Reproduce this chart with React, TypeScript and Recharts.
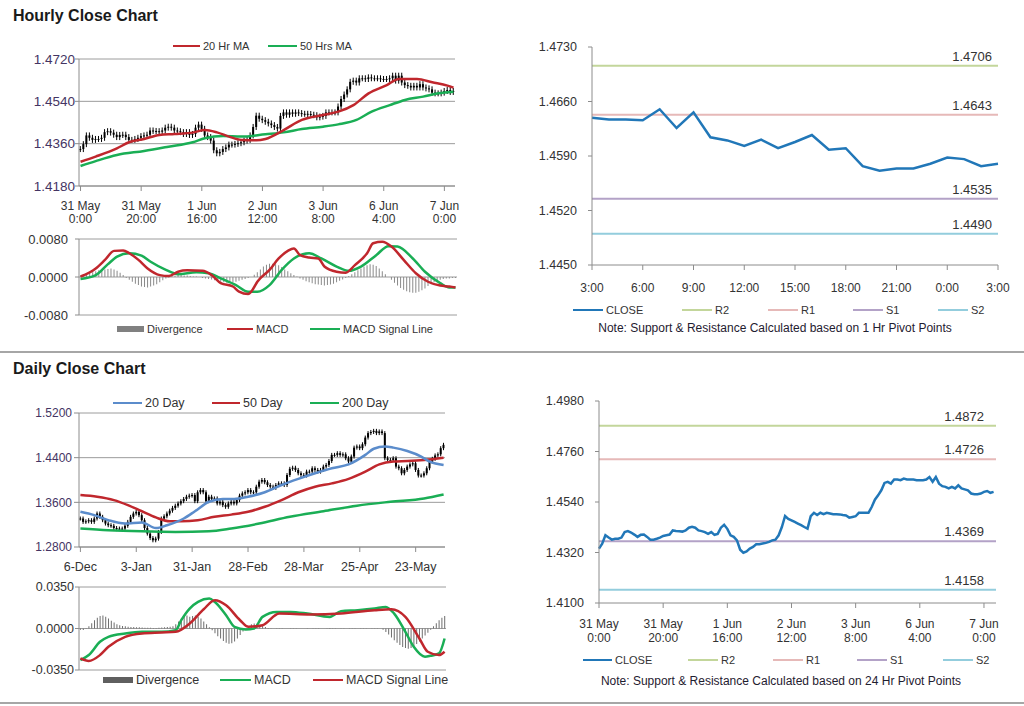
import React from "react";
import { ComposedChart, LineChart, Line, Bar, XAxis, YAxis, CartesianGrid, ReferenceLine } from "recharts";

// hourly closes, 31 May 0:00 -> 7 Jun 3:00 (candles top-left, close line bottom-right)
const hourlyClose = [
  1.4337, 1.4358, 1.4395, 1.4385, 1.4376, 1.438, 1.438, 1.4385, 1.4409, 1.4413,
  1.4407, 1.4398, 1.4388, 1.4397, 1.4398, 1.4388, 1.4376, 1.4376, 1.438, 1.4385,
  1.4392, 1.4395, 1.4398, 1.4416, 1.4414, 1.4413, 1.4411, 1.4416, 1.4428, 1.4432,
  1.4428, 1.4416, 1.4413, 1.4409, 1.4401, 1.4409, 1.4397, 1.4401, 1.4428, 1.4441,
  1.4423, 1.4395, 1.4388, 1.4373, 1.4332, 1.4319, 1.4325, 1.4337, 1.4344, 1.4356,
  1.4356, 1.4359, 1.4362, 1.4366, 1.4373, 1.4376, 1.4395, 1.4431, 1.4479, 1.4466,
  1.446, 1.4453, 1.4446, 1.4439, 1.4431, 1.4424, 1.4478, 1.4493, 1.4483, 1.4493,
  1.4487, 1.4493, 1.449, 1.4487, 1.4487, 1.4486, 1.4483, 1.4481, 1.4472, 1.4475,
  1.4478, 1.4493, 1.4493, 1.4493, 1.4493, 1.4518, 1.455, 1.4569, 1.4591, 1.4623,
  1.4628, 1.462, 1.4638, 1.4638, 1.4635, 1.4642, 1.4638, 1.4638, 1.4638, 1.4635,
  1.4635, 1.4635, 1.4638, 1.4649, 1.4628, 1.4649, 1.462, 1.4609, 1.4606, 1.4599,
  1.4606, 1.4599, 1.4613, 1.4599, 1.4595, 1.4591, 1.4577, 1.4574, 1.4574, 1.4577,
  1.4584, 1.4588, 1.458, 1.4584,
];
const hourlyTickLabels = [
  ["31 May", "0:00"], ["31 May", "20:00"], ["1 Jun", "16:00"], ["2 Jun", "12:00"],
  ["3 Jun", "8:00"], ["6 Jun", "4:00"], ["7 Jun", "0:00"],
];
// [bar index, value]
const hourlyMa20: [number, number][] = [
  [0, 1.4283], [5, 1.4305], [12, 1.434], [16, 1.4366], [21, 1.438], [26, 1.4397], [31, 1.4401],
  [37, 1.4407], [41, 1.4418], [45, 1.4408], [49, 1.439], [53, 1.4376], [58, 1.4374], [61, 1.438],
  [67, 1.4418], [73, 1.4461], [80, 1.4482], [85, 1.4496], [90, 1.4524], [95, 1.4574], [101, 1.4609],
  [105, 1.4635], [111, 1.4635], [116, 1.4621], [121, 1.4607], [123, 1.4598],
];
const hourlyMa50: [number, number][] = [
  [0, 1.4265], [5, 1.4286], [12, 1.4312], [21, 1.4329], [29, 1.4347], [37, 1.4366], [41, 1.4383],
  [47, 1.4393], [53, 1.439], [61, 1.44], [67, 1.4408], [73, 1.4422], [80, 1.4432], [85, 1.4442],
  [91, 1.4461], [96, 1.4496], [102, 1.4524], [107, 1.4546], [113, 1.456], [118, 1.4574], [123, 1.4581],
];
const hourlyTicks = [1.418, 1.436, 1.454, 1.472];

const hourlyDivergence = [
  0.0002, 0.0003, 0.0005, 0.0008, 0.001, 0.0012, 0.0014, 0.0015, 0.0016, 0.0017,
  0.0018, 0.0016, 0.0013, 0.0009, 0.0004, -0.0002, -0.0006, -0.001, -0.0014, -0.0017,
  -0.002, -0.0021, -0.0022, -0.002, -0.0018, -0.0015, -0.0011, -0.0007, -0.0003, -0.0001,
  0.0002, 0.0003, 0.0004, 0.0004, 0.0003, 0.0003, 0.0002, 0.0001, 0.0001, 0.0,
  -0.0002, -0.0003, -0.0004, -0.0005, -0.0007, -0.0009, -0.001, -0.0011, -0.0012, -0.0012,
  -0.0011, -0.001, -0.0008, -0.0006, -0.0004, -0.0002, 0.0, 0.0005, 0.001, 0.0016,
  0.0022, 0.0026, 0.0028, 0.0028, 0.0027, 0.0025, 0.0021, 0.0016, 0.0012, 0.0008,
  0.0004, 0.0001, -0.0003, -0.0006, -0.0009, -0.0011, -0.0013, -0.0015, -0.0016, -0.0017,
  -0.0018, -0.0017, -0.0016, -0.0014, -0.0011, -0.0008, -0.0005, -0.0002, 0.0002, 0.0006,
  0.001, 0.0014, 0.0018, 0.0022, 0.0025, 0.0027, 0.0026, 0.0023, 0.0018, 0.0012,
  0.0006, 0.0, -0.0006, -0.0012, -0.0018, -0.0023, -0.0027, -0.003, -0.0032, -0.0033,
  -0.0033, -0.0031, -0.0028, -0.0024, -0.0019, -0.0015, -0.0011, -0.0008, -0.0006, -0.0004,
  -0.0003, -0.0003, -0.0002, -0.0002,
];
const hourlyMacd: [number, number][] = [
  [0, 0.0001], [5, 0.0018], [8, 0.0036], [11, 0.0055], [14, 0.0056], [16, 0.005], [19, 0.0036],
  [22, 0.0018], [26, 0.0004], [29, 0.0002], [32, 0.0011], [35, 0.0014], [40, 0.0013], [43, 0.0004],
  [46, -0.0013], [50, -0.002], [52, -0.0031], [55, -0.0036], [56, -0.0031], [58, -0.001], [62, 0.0015],
  [65, 0.0039], [68, 0.0055], [70, 0.006], [72, 0.0046], [75, 0.0041], [78, 0.0039], [80, 0.0022],
  [84, 0.0011], [87, 0.0009], [90, 0.0025], [94, 0.005], [96, 0.0071], [99, 0.0074], [102, 0.0064],
  [106, 0.0036], [110, 0.0008], [114, -0.001], [118, -0.0018], [121, -0.002], [123, -0.0022],
];
const hourlySignal: [number, number][] = [
  [0, -0.0004], [5, 0.0004], [9, 0.0027], [12, 0.0043], [16, 0.005], [20, 0.0045], [23, 0.0032],
  [28, 0.0015], [32, 0.0006], [38, 0.001], [42, 0.0008], [46, -0.0003], [51, -0.0017], [55, -0.0031],
  [58, -0.0031], [62, -0.0017], [66, 0.0015], [70, 0.0039], [75, 0.005], [79, 0.0039], [84, 0.0022],
  [88, 0.0013], [92, 0.0022], [97, 0.0046], [101, 0.0065], [104, 0.0064], [109, 0.0039], [113, 0.0011],
  [118, -0.0013], [121, -0.0022], [123, -0.0022],
];
const hourlyMacdTicks = [-0.008, 0, 0.008];

// last 24 hours, 1 hr pivots
const oneHourClose = [
  1.4639, 1.4637, 1.4637, 1.4636, 1.465, 1.4626, 1.4646, 1.4614, 1.461, 1.4603,
  1.4611, 1.46, 1.4608, 1.4617, 1.4598, 1.46, 1.4577, 1.4571, 1.4574, 1.4574,
  1.458, 1.4588, 1.4586, 1.4577, 1.458,
];
const oneHourTickLabels = ["3:00", "6:00", "9:00", "12:00", "15:00", "18:00", "21:00", "0:00", "3:00"];
const oneHourTicks = [1.445, 1.452, 1.459, 1.466, 1.473];
const pivotNames = ["R2", "R1", "S1", "S2"];
const pivot1Hr = [1.4706, 1.4643, 1.4535, 1.449];
const pivot24Hr = [1.4872, 1.4726, 1.4369, 1.4158];
const hourly24Ticks = [1.41, 1.432, 1.454, 1.476, 1.498];

// daily closes 6-Dec -> 7-Jun
const dailyClose = [
  1.331, 1.325, 1.326, 1.328, 1.325, 1.331, 1.34, 1.334, 1.328, 1.322,
  1.319, 1.318, 1.314, 1.312, 1.313, 1.313, 1.318, 1.325, 1.334, 1.34,
  1.343, 1.337, 1.328, 1.314, 1.304, 1.296, 1.292, 1.295, 1.307, 1.331,
  1.335, 1.34, 1.345, 1.35, 1.354, 1.358, 1.362, 1.366, 1.37, 1.372,
  1.373, 1.362, 1.378, 1.382, 1.378, 1.362, 1.37, 1.366, 1.367, 1.358,
  1.361, 1.355, 1.352, 1.358, 1.361, 1.358, 1.364, 1.372, 1.376, 1.378,
  1.382, 1.378, 1.378, 1.388, 1.397, 1.4, 1.396, 1.391, 1.388, 1.386,
  1.391, 1.394, 1.394, 1.391, 1.409, 1.42, 1.422, 1.418, 1.412, 1.409,
  1.408, 1.415, 1.415, 1.421, 1.418, 1.415, 1.418, 1.424, 1.427, 1.434,
  1.445, 1.445, 1.448, 1.445, 1.446, 1.439, 1.433, 1.442, 1.458, 1.46,
  1.457, 1.464, 1.476, 1.484, 1.486, 1.488, 1.484, 1.487, 1.484, 1.439,
  1.436, 1.436, 1.439, 1.424, 1.421, 1.412, 1.418, 1.424, 1.428, 1.43,
  1.418, 1.408, 1.408, 1.412, 1.421, 1.433, 1.438, 1.444, 1.446, 1.457,
  1.463,
];
const dailyTickLabels = ["6-Dec", "3-Jan", "31-Jan", "28-Feb", "28-Mar", "25-Apr", "23-May"];
const dailyMa20: [number, number][] = [
  [0, 1.343], [5, 1.337], [10, 1.328], [16, 1.322], [22, 1.324], [27, 1.314], [31, 1.319],
  [37, 1.331], [41, 1.344], [46, 1.361], [51, 1.366], [55, 1.366], [60, 1.37], [66, 1.378],
  [72, 1.391], [78, 1.402], [84, 1.412], [90, 1.421], [96, 1.428], [102, 1.445], [105, 1.456],
  [109, 1.46], [112, 1.458], [117, 1.452], [122, 1.442], [125, 1.433], [130, 1.427],
];
const dailyMa50: [number, number][] = [
  [0, 1.373], [6, 1.37], [12, 1.364], [17, 1.355], [22, 1.344], [27, 1.333], [32, 1.326],
  [36, 1.326], [42, 1.328], [48, 1.334], [54, 1.338], [60, 1.343], [66, 1.352], [72, 1.364],
  [78, 1.378], [84, 1.388], [90, 1.394], [96, 1.402], [102, 1.415], [107, 1.428], [112, 1.433],
  [117, 1.434], [123, 1.436], [130, 1.44],
];
const dailyMa200: [number, number][] = [
  [0, 1.313], [10, 1.31], [22, 1.308], [34, 1.307], [46, 1.308], [54, 1.313], [64, 1.322],
  [75, 1.334], [87, 1.344], [99, 1.354], [111, 1.361], [123, 1.367], [130, 1.374],
];
const dailyTicks = [1.28, 1.36, 1.44, 1.52];

const dailyDivergence = [
  -0.001, -0.0012, 0.0005, 0.002, 0.0045, 0.007, 0.009, 0.0105, 0.011, 0.01,
  0.0085, 0.0065, 0.005, 0.0035, 0.0028, 0.0022, 0.0018, 0.0015, 0.0013, 0.0012,
  0.001, 0.001, 0.0008, 0.0007, 0.0006, 0.0006, 0.0005, 0.0005, 0.0006, 0.0008,
  0.001, 0.0012, 0.0015, 0.002, 0.0035, 0.006, 0.0085, 0.0105, 0.011, 0.01,
  0.0105, 0.011, 0.01, 0.0085, 0.006, 0.0035, 0.001, -0.0015, -0.004, -0.0065,
  -0.0085, -0.0105, -0.012, -0.0128, -0.0125, -0.011, -0.0085, -0.0055, -0.0025, 0.0,
  0.002, 0.0035, 0.0042, 0.004, 0.0032, 0.0022, 0.0012, 0.0005, 0.0002, 0.0,
  -0.0003, -0.0003, -0.0002, -0.0001, 0.0, -0.0002, -0.0003, -0.0002, -0.0001, 0.0,
  0.0001, 0.0002, 0.0, -0.0002, -0.0003, -0.0002, -0.0001, 0.0001, 0.0003, 0.0004,
  0.0003, 0.0002, 0.0001, 0.0002, 0.0002, 0.0001, 0.0002, 0.0003, 0.0002, 0.0001,
  0.0002, 0.0003, 0.0002, 0.0001, 0.0002, 0.0003, 0.0002, 0.0001, -0.001, -0.003,
  -0.005, -0.0075, -0.01, -0.012, -0.014, -0.0155, -0.0165, -0.017, -0.0165, -0.015,
  -0.013, -0.011, -0.0085, -0.006, -0.0035, -0.001, 0.002, 0.0045, 0.007, 0.009,
  0.0105,
];
const dailyMacd: [number, number][] = [
  [0, -0.0266], [3, -0.0224], [7, -0.0112], [10, -0.007], [16, -0.0042], [22, -0.0028], [29, -0.0028],
  [34, -0.0014], [36, 0.007], [39, 0.0168], [42, 0.0224], [46, 0.0252], [48, 0.0224], [52, 0.0112],
  [55, 0.0014], [59, -0.0008], [62, 0.0], [65, 0.0098], [70, 0.014], [75, 0.014], [81, 0.0126],
  [89, 0.0098], [93, 0.0146], [99, 0.0154], [105, 0.0168], [109, 0.0182], [112, 0.0126], [116, -0.0028],
  [119, -0.0154], [123, -0.0238], [125, -0.023], [128, -0.021], [130, -0.0084],
];
const dailySignal: [number, number][] = [
  [0, -0.0252], [3, -0.0274], [7, -0.0224], [10, -0.0154], [16, -0.007], [22, -0.0042], [29, -0.0034],
  [34, -0.0028], [39, 0.0042], [44, 0.0162], [48, 0.0238], [52, 0.0196], [57, 0.007], [60, 0.0014],
  [65, 0.0028], [71, 0.0126], [82, 0.0118], [93, 0.0126], [105, 0.0154], [111, 0.0162], [116, 0.0098],
  [121, -0.0084], [124, -0.0196], [128, -0.0224], [130, -0.0196],
];
const dailyMacdTicks = [-0.035, 0, 0.035];

const FONT = "'Liberation Sans', Arial, Helvetica, sans-serif";
const AXIS = "#8c8c8c";
const GRID = "#9c9c9c";
const RED = "#c0272d";
const GREEN = "#1aae55";
const MA_BLUE = "#5b8ccb";
const CLOSE_BLUE = "#2177b8";
const PURPLE = "#443463";
const TXT = "#333";
const pivotColors = ["#c3d69b", "#e6b9b8", "#b3a2c7", "#93cddd"];

const pick = (pairs: [number, number][], i: number) => {
  const p = pairs.find((q) => q[0] === i);
  return p ? p[1] : null;
};
const f4 = (v: number) => v.toFixed(4);

const candleRows = (closes: number[], maA: [number, number][], maB: [number, number][], maC?: [number, number][]) =>
  closes.map((close, i) => {
    const open = i === 0 ? close : closes[i - 1];
    return {
      i,
      close,
      body: [Math.min(open, close), Math.max(open, close)],
      a: pick(maA, i),
      b: pick(maB, i),
      c: maC ? pick(maC, i) : null,
    };
  });

const hourlyRows = candleRows(hourlyClose, hourlyMa20, hourlyMa50);
const dailyRows = candleRows(dailyClose, dailyMa20, dailyMa50, dailyMa200);
const hourlyMacdRows = hourlyDivergence.map((d, i) => ({ i, div: d, macd: pick(hourlyMacd, i), signal: pick(hourlySignal, i) }));
const dailyMacdRows = dailyDivergence.map((d, i) => ({ i, div: d, macd: pick(dailyMacd, i), signal: pick(dailySignal, i) }));
const oneHourRows = oneHourClose.map((close, h) => ({ h, close }));

const Candle = (props: any) => {
  const { x, y, width, height, wick = 3 } = props;
  if (x == null || y == null) return null;
  const cx = x + width / 2;
  const top = Math.min(y, y + height);
  const h = Math.abs(height || 0);
  return (
    <g>
      <line x1={cx} x2={cx} y1={top - wick} y2={top + h + wick} stroke="#000" strokeWidth={1} />
      <rect x={cx - 1} y={top} width={2} height={Math.max(h, 1)} fill="#000" />
    </g>
  );
};

const TwoLineTick = (props: any) => {
  const { x, y, payload, labels, step, d1, d2, fontSize } = props;
  const lab = labels[Math.round(payload.value / step)];
  if (!lab) return null;
  return (
    <text textAnchor="middle" fill={TXT} fontSize={fontSize}>
      <tspan x={x} y={y + d1}>{lab[0]}</tspan>
      <tspan x={x} y={y + d2}>{lab[1]}</tspan>
    </text>
  );
};

const PivotLabel = (props: any) => {
  const { viewBox, text, inset } = props;
  if (!viewBox) return null;
  return (
    <text x={viewBox.x + viewBox.width - inset} y={viewBox.y - 5} textAnchor="end" fontSize={13} fill={TXT}>
      {text}
    </text>
  );
};

type LegendItem = { label: string; color: string; x: number; w: number; box?: boolean; thick?: number };

const LegendRow = ({ top, items, fontSize }: { top: number; items: LegendItem[]; fontSize: number }) => (
  <>
    {items.map((it) => (
      <div
        key={it.label + it.x}
        style={{
          position: "absolute",
          left: it.x,
          top: top - 8,
          height: 16,
          display: "flex",
          alignItems: "center",
          fontSize,
          color: TXT,
          whiteSpace: "nowrap",
        }}
      >
        <span
          style={{
            display: "inline-block",
            width: it.w,
            height: it.box ? 6 : it.thick || 2,
            background: it.color,
            marginRight: 3,
          }}
        />
        {it.label}
      </div>
    ))}
  </>
);

const titleStyle: React.CSSProperties = {
  position: "absolute",
  left: 13,
  fontSize: 16,
  fontWeight: "bold",
  lineHeight: "18px",
  color: "#1a1a1a",
};
const abs = (left: number, top: number): React.CSSProperties => ({ position: "absolute", left, top });

export default function App() {
  return (
    <div
      style={{
        position: "absolute",
        left: 0,
        top: 0,
        width: 1024,
        height: 706,
        background: "#fff",
        fontFamily: FONT,
        overflow: "hidden",
      }}
    >
      <div style={{ ...titleStyle, top: 7 }}>Hourly Close Chart</div>
      <div style={{ ...titleStyle, top: 360 }}>Daily Close Chart</div>
      <div style={{ position: "absolute", left: 0, top: 351, width: 1024, height: 2, background: "#a6a6a6" }} />
      <div style={{ position: "absolute", left: 0, top: 702, width: 1024, height: 2, background: "#a6a6a6" }} />

      {/* hourly candles */}
      <div style={abs(0, 0)}>
        <ComposedChart width={470} height={230} data={hourlyRows} margin={{ top: 59, right: 15, bottom: 0, left: 0 }}>
          <CartesianGrid vertical={false} stroke={GRID} />
          <XAxis
            dataKey="i"
            interval={19}
            height={44}
            tickSize={5}
            axisLine={{ stroke: AXIS }}
            tickLine={{ stroke: AXIS }}
            tick={<TwoLineTick labels={hourlyTickLabels} step={20} d1={17} d2={30} fontSize={12} />}
          />
          <YAxis
            type="number"
            domain={[1.418, 1.472]}
            ticks={hourlyTicks}
            interval={0}
            width={79}
            tickSize={4}
            tickMargin={0}
            tickFormatter={f4}
            tick={{ fontSize: 13.5, fill: PURPLE }}
            axisLine={{ stroke: AXIS }}
            tickLine={{ stroke: AXIS }}
          />
          <Bar dataKey="body" shape={<Candle wick={3} />} isAnimationActive={false} />
          <Line dataKey="b" type="monotone" stroke={GREEN} strokeWidth={2.5} dot={false} activeDot={false} connectNulls isAnimationActive={false} />
          <Line dataKey="a" type="monotone" stroke={RED} strokeWidth={2.5} dot={false} activeDot={false} connectNulls isAnimationActive={false} />
        </ComposedChart>
      </div>
      <LegendRow
        top={46}
        fontSize={11}
        items={[
          { label: "20 Hr MA", color: RED, x: 173, w: 27 },
          { label: "50 Hrs MA", color: GREEN, x: 268, w: 29 },
        ]}
      />

      {/* hourly MACD */}
      <div style={abs(0, 230)}>
        <ComposedChart width={470} height={100} data={hourlyMacdRows} margin={{ top: 9, right: 13, bottom: 15, left: 0 }}>
          <CartesianGrid vertical={false} stroke={GRID} />
          <XAxis dataKey="i" hide />
          <YAxis
            type="number"
            domain={[-0.008, 0.008]}
            ticks={hourlyMacdTicks}
            interval={0}
            width={79}
            tickSize={4}
            tickMargin={7}
            tickFormatter={f4}
            tick={{ fontSize: 13, fill: TXT }}
            axisLine={{ stroke: AXIS }}
            tickLine={{ stroke: AXIS }}
          />
          <Bar dataKey="div" fill="#8a8a8a" barSize={1} isAnimationActive={false} />
          <Line dataKey="signal" type="monotone" stroke={GREEN} strokeWidth={2.5} dot={false} activeDot={false} connectNulls isAnimationActive={false} />
          <Line dataKey="macd" type="monotone" stroke={RED} strokeWidth={2.5} dot={false} activeDot={false} connectNulls isAnimationActive={false} />
        </ComposedChart>
      </div>
      <LegendRow
        top={329}
        fontSize={11}
        items={[
          { label: "Divergence", color: "#808080", x: 117, w: 27, box: true },
          { label: "MACD", color: RED, x: 227, w: 26 },
          { label: "MACD  Signal Line", color: GREEN, x: 310, w: 30 },
        ]}
      />

      {/* 1 hr pivot chart */}
      <div style={abs(520, 30)}>
        <LineChart width={504} height={270} data={oneHourRows} margin={{ top: 17, right: 26, bottom: 0, left: 0 }}>
          <XAxis
            dataKey="h"
            type="number"
            domain={[0, 24]}
            ticks={[0, 3, 6, 9, 12, 15, 18, 21, 24]}
            interval={0}
            height={35}
            tickSize={5}
            tickMargin={13}
            tickFormatter={(v: number) => oneHourTickLabels[Math.round(v / 3)]}
            tick={{ fontSize: 12, fill: TXT }}
            axisLine={{ stroke: AXIS }}
            tickLine={{ stroke: AXIS }}
          />
          <YAxis
            type="number"
            domain={[1.445, 1.473]}
            ticks={oneHourTicks}
            interval={0}
            width={72}
            tickSize={4}
            tickMargin={11}
            tickFormatter={f4}
            tick={{ fontSize: 12.5, fill: TXT }}
            axisLine={{ stroke: AXIS }}
            tickLine={{ stroke: AXIS }}
          />
          {pivot1Hr.map((v, k) => (
            <ReferenceLine
              key={pivotNames[k]}
              y={v}
              stroke={pivotColors[k]}
              strokeWidth={2}
              label={<PivotLabel text={f4(v)} inset={6} />}
            />
          ))}
          <Line dataKey="close" type="linear" stroke={CLOSE_BLUE} strokeWidth={2.5} dot={false} activeDot={false} isAnimationActive={false} />
        </LineChart>
      </div>
      <LegendRow
        top={310}
        fontSize={11}
        items={[
          { label: "CLOSE", color: CLOSE_BLUE, x: 573, w: 30 },
          ...pivotNames.map((n, k) => ({ label: n, color: pivotColors[k], x: [682, 768, 853, 938][k], w: 30 })),
        ]}
      />
      <div style={{ position: "absolute", left: 575, top: 321, width: 400, textAlign: "center", fontSize: 12, color: "#1f2030", whiteSpace: "nowrap" }}>
        Note: Support &amp; Resistance Calculated based on 1 Hr Pivot Points
      </div>

      {/* daily candles */}
      <div style={abs(0, 380)}>
        <ComposedChart width={470} height={200} data={dailyRows} margin={{ top: 33, right: 25, bottom: 0, left: 0 }}>
          <CartesianGrid vertical={false} stroke={GRID} />
          <XAxis
            dataKey="i"
            interval={19}
            height={33}
            tickSize={5}
            tickMargin={10}
            tickFormatter={(v: number) => dailyTickLabels[Math.round(v / 20)]}
            tick={{ fontSize: 12.5, fill: TXT }}
            axisLine={{ stroke: AXIS }}
            tickLine={{ stroke: AXIS }}
          />
          <YAxis
            type="number"
            domain={[1.28, 1.52]}
            ticks={dailyTicks}
            interval={0}
            width={79}
            tickSize={5}
            tickMargin={2}
            tickFormatter={f4}
            tick={{ fontSize: 12, fill: PURPLE }}
            axisLine={{ stroke: AXIS }}
            tickLine={{ stroke: AXIS }}
          />
          <Bar dataKey="body" shape={<Candle wick={2} />} isAnimationActive={false} />
          <Line dataKey="c" type="monotone" stroke={GREEN} strokeWidth={2.5} dot={false} activeDot={false} connectNulls isAnimationActive={false} />
          <Line dataKey="b" type="monotone" stroke={RED} strokeWidth={2.5} dot={false} activeDot={false} connectNulls isAnimationActive={false} />
          <Line dataKey="a" type="monotone" stroke={MA_BLUE} strokeWidth={2.5} dot={false} activeDot={false} connectNulls isAnimationActive={false} />
        </ComposedChart>
      </div>
      <LegendRow
        top={403}
        fontSize={12.5}
        items={[
          { label: "20 Day", color: MA_BLUE, x: 113, w: 29 },
          { label: "50 Day", color: RED, x: 212, w: 28 },
          { label: "200 Day", color: GREEN, x: 310, w: 29 },
        ]}
      />

      {/* daily MACD */}
      <div style={abs(0, 580)}>
        <ComposedChart width={470} height={105} data={dailyMacdRows} margin={{ top: 7, right: 24, bottom: 15, left: 0 }}>
          <CartesianGrid vertical={false} stroke={GRID} />
          <XAxis dataKey="i" hide />
          <YAxis
            type="number"
            domain={[-0.035, 0.035]}
            ticks={dailyMacdTicks}
            interval={0}
            width={79}
            tickSize={4}
            tickMargin={1}
            tickFormatter={f4}
            tick={{ fontSize: 12.5, fill: TXT }}
            axisLine={{ stroke: AXIS }}
            tickLine={{ stroke: AXIS }}
          />
          <Bar dataKey="div" fill="#6e6e6e" barSize={1} isAnimationActive={false} />
          <Line dataKey="macd" type="monotone" stroke={GREEN} strokeWidth={2.5} dot={false} activeDot={false} connectNulls isAnimationActive={false} />
          <Line dataKey="signal" type="monotone" stroke={RED} strokeWidth={2.5} dot={false} activeDot={false} connectNulls isAnimationActive={false} />
        </ComposedChart>
      </div>
      <LegendRow
        top={680}
        fontSize={12.5}
        items={[
          { label: "Divergence", color: "#5f5f5f", x: 103, w: 30, box: true },
          { label: "MACD", color: GREEN, x: 220, w: 31 },
          { label: "MACD  Signal Line", color: RED, x: 313, w: 30 },
        ]}
      />

      {/* 24 hr pivot chart */}
      <div style={abs(520, 380)}>
        <LineChart width={504} height={290} data={hourlyRows} margin={{ top: 21, right: 28, bottom: 0, left: 0 }}>
          <XAxis
            dataKey="i"
            type="number"
            domain={[0, 123.75]}
            ticks={[0, 20, 40, 60, 80, 100, 120]}
            interval={0}
            height={67}
            tickSize={5}
            tickMargin={2}
            axisLine={{ stroke: AXIS }}
            tickLine={{ stroke: AXIS }}
            tick={<TwoLineTick labels={hourlyTickLabels} step={20} d1={18} d2={32} fontSize={12} />}
          />
          <YAxis
            type="number"
            domain={[1.41, 1.498]}
            ticks={hourly24Ticks}
            interval={0}
            width={79}
            tickSize={4}
            tickMargin={11}
            tickFormatter={f4}
            tick={{ fontSize: 12.5, fill: TXT }}
            axisLine={{ stroke: AXIS }}
            tickLine={{ stroke: AXIS }}
          />
          {pivot24Hr.map((v, k) => (
            <ReferenceLine
              key={pivotNames[k]}
              y={v}
              stroke={pivotColors[k]}
              strokeWidth={2}
              label={<PivotLabel text={f4(v)} inset={12} />}
            />
          ))}
          <Line dataKey="close" type="linear" stroke={CLOSE_BLUE} strokeWidth={2.5} dot={false} activeDot={false} isAnimationActive={false} />
        </LineChart>
      </div>
      <LegendRow
        top={660}
        fontSize={11}
        items={[
          { label: "CLOSE", color: CLOSE_BLUE, x: 583, w: 29 },
          ...pivotNames.map((n, k) => ({ label: n, color: pivotColors[k], x: [688, 773, 857, 943][k], w: 30 })),
        ]}
      />
      <div style={{ position: "absolute", left: 581, top: 674, width: 400, textAlign: "center", fontSize: 12, color: "#1f2030", whiteSpace: "nowrap" }}>
        Note: Support &amp; Resistance Calculated based on 24 Hr Pivot Points
      </div>
    </div>
  );
}
